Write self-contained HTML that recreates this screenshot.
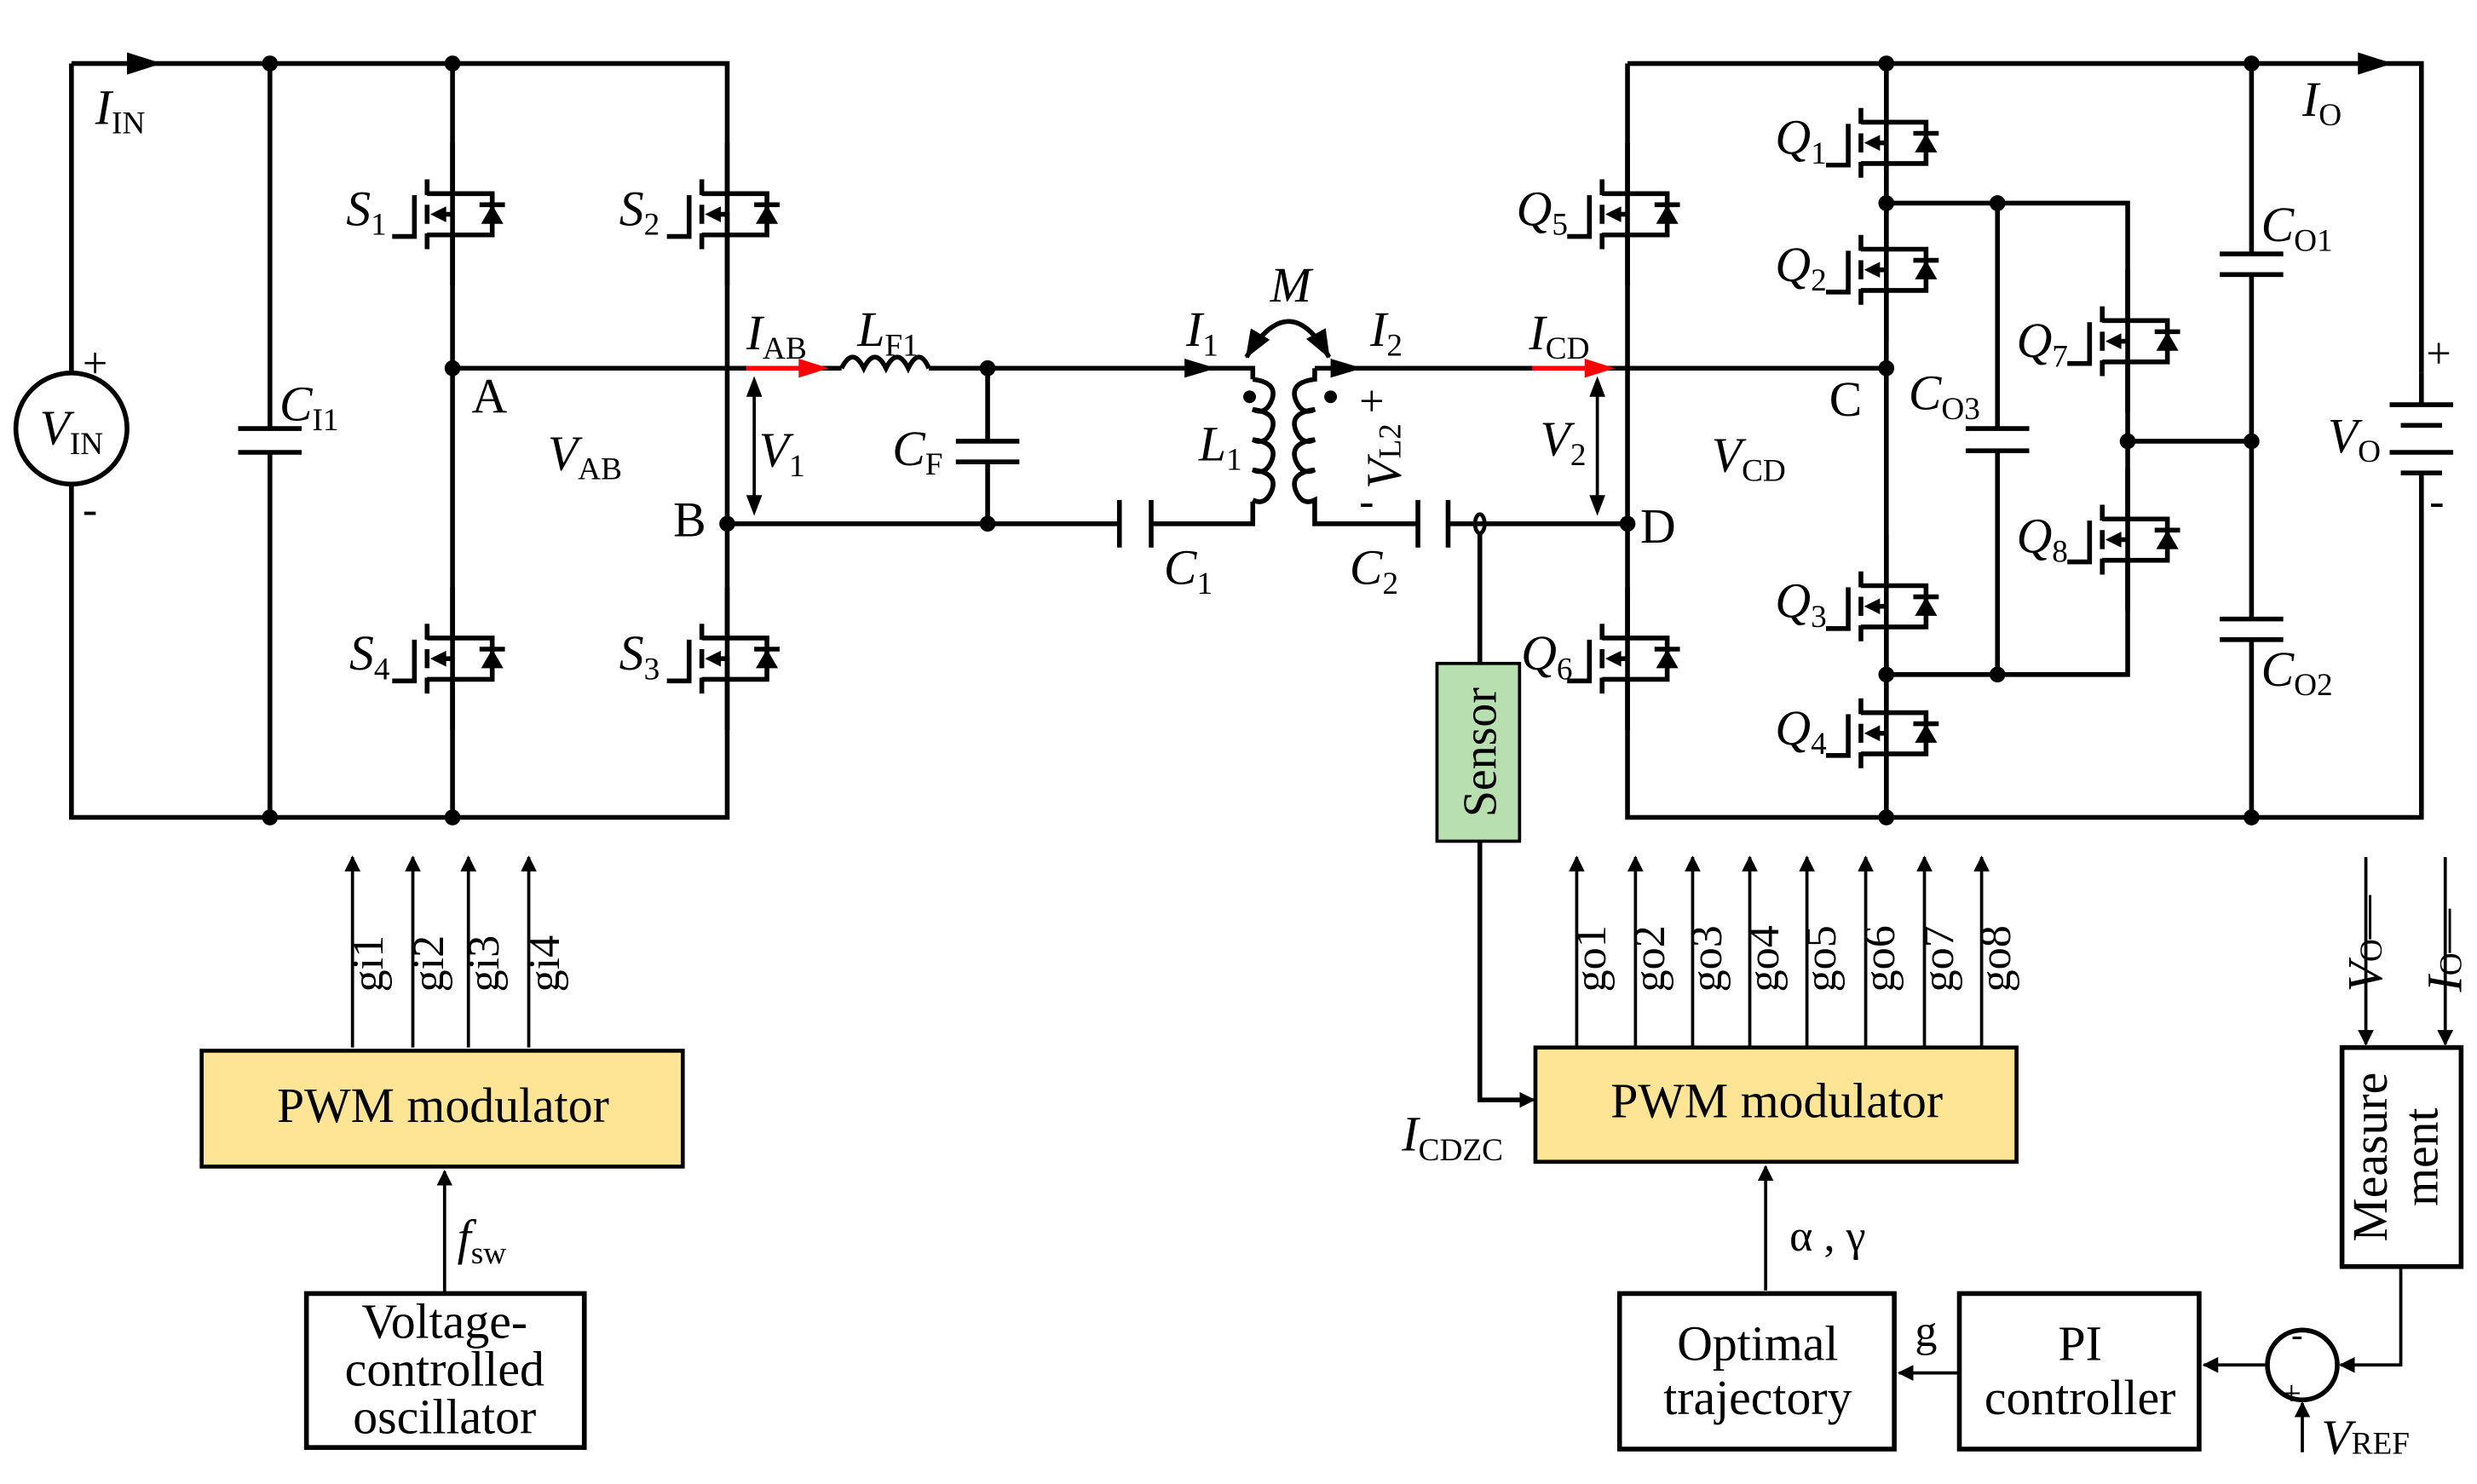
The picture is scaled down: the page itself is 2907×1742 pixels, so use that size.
<!DOCTYPE html>
<html><head><meta charset="utf-8"><style>
html,body{margin:0;padding:0;background:#fff}
svg{display:block}
text{font-family:"Liberation Serif",serif;fill:#000}
.i{font-style:italic}
</style></head><body>
<svg width="2907" height="1742" viewBox="0 0 1560 935" preserveAspectRatio="none" xmlns="http://www.w3.org/2000/svg">
<defs>
<g id="mos">
 <path d="M0,-45V-13H25V13H0V45M-16,-22V-12M-16,-6V6M-16,12V22M-16,-13H0M-16,13H0M-24,-12V14H-38" fill="none" stroke="#000" stroke-width="3"/>
 <path d="M0,0H-5" stroke="#000" stroke-width="3"/>
 <polygon points="-14,0 -4,-5 -4,5" fill="#000"/>
 <polygon points="25,-6 18,6 32,6" fill="#000"/>
 <path d="M17,-6H33" stroke="#000" stroke-width="3"/>
</g>
<g id="mos2">
 <path d="M0,-45V-13H25V13H0V45M-16,-22V-12M-16,-6V6M-16,12V22M-16,-13H0M-16,13H0M-24,-12V14H-38M0,13V0H-5" fill="none" stroke="#000" stroke-width="3"/>
 <polygon points="-14,0 -4,-5 -4,5" fill="#000"/>
 <polygon points="25,-6 18,6 32,6" fill="#000"/>
 <path d="M17,-6H33" stroke="#000" stroke-width="3"/>
</g>
<marker id="ar" markerWidth="10" markerHeight="10" refX="9" refY="5" orient="auto" markerUnits="userSpaceOnUse"><polygon points="0,0 10,5 0,10" fill="#000"/></marker>
<marker id="ab" markerWidth="18" markerHeight="14" refX="17" refY="7" orient="auto-start-reverse" markerUnits="userSpaceOnUse"><polygon points="0,0 18,7 0,14" fill="#000"/></marker>
</defs>
<g fill="none" stroke="#000" stroke-width="3">
<path d="M45,40H458V515H45V305M45,235V40"/>
<path d="M170,40V270M170,285V515"/>
<path d="M150,270H190M150,285H190"/>
<path d="M285,40V515M285,232H458"/>
<path d="M458,232H530M585,232H789V239M458,330H705M725,330H789V316"/>
<path d="M530,232q7,-14 14,0q7,-14 14,0q7,-14 14,0q7,-14 13,0"/>
<path d="M622,232V278M622,291V330M602,278H642M602,291H642"/>
<path d="M705,315V345M725,315V345"/>
<path d="M789,239q16,2 12,13q-4,10 -12,6q16,2 12,13q-4,10 -12,6q16,2 12,13q-4,10 -12,6q16,2 12,13q-4,10 -12,6"/>
<path d="M828,232V239q-16,2 -12,13q4,10 12,6q-16,2 -12,13q4,10 12,6q-16,2 -12,13q4,10 12,6q-16,2 -12,13q4,10 12,6V330H893M912,330H1025"/>
<path d="M893,315V345M912,315V345"/>
<path d="M828,232H1188"/>
<path d="M785,225Q812,180 837,225" marker-start="url(#ab)" marker-end="url(#ab)"/>
<ellipse cx="932" cy="330" rx="3" ry="6" stroke-width="2.5"/>
<path d="M932,336V418M932,530V693H958"/>
<path d="M1025,40H1525V235M1525,318V515H1025V40"/>
<path d="M1188,40V515M1188,128H1340V425H1188M1258,128V270M1258,284V425M1238,270H1278M1238,284H1278"/>
<path d="M1340,278H1418M1418,40V160M1418,173V390M1418,403V515M1398,160H1438M1398,173H1438M1398,390H1438M1398,403H1438"/>
<path d="M1505,255H1545M1512,268H1538M1505,285H1545M1512,298H1538M1525,235V255M1525,298V318"/>
<circle cx="45" cy="270" r="35"/>
<rect x="193" y="815" width="175" height="97"/>
<rect x="1020" y="815" width="173" height="98"/>
<rect x="1234" y="815" width="151" height="98"/>
<rect x="1475" y="660" width="75" height="138"/>
<circle cx="1450" cy="860" r="22"/>
</g>
<use href="#mos" x="285" y="135"/>
<use href="#mos2" x="458" y="135"/>
<use href="#mos" x="285" y="415"/>
<use href="#mos2" x="458" y="415"/>
<use href="#mos" x="1025" y="135"/>
<use href="#mos" x="1025" y="415"/>
<use href="#mos" x="1188" y="90"/>
<use href="#mos" x="1188" y="170"/>
<use href="#mos" x="1188" y="382"/>
<use href="#mos" x="1188" y="462"/>
<use href="#mos" x="1340" y="215"/>
<use href="#mos" x="1340" y="340"/>
<g fill="#000">
<circle cx="170" cy="40" r="5"/><circle cx="285" cy="40" r="5"/><circle cx="170" cy="515" r="5"/><circle cx="285" cy="515" r="5"/>
<circle cx="285" cy="232" r="5"/><circle cx="458" cy="330" r="5"/><circle cx="622" cy="232" r="5"/><circle cx="622" cy="330" r="5"/>
<circle cx="1025" cy="330" r="5"/><circle cx="1188" cy="40" r="5"/><circle cx="1188" cy="128" r="5"/><circle cx="1258" cy="128" r="5"/>
<circle cx="1188" cy="232" r="5"/><circle cx="1188" cy="425" r="5"/><circle cx="1258" cy="425" r="5"/><circle cx="1188" cy="515" r="5"/>
<circle cx="1340" cy="278" r="5"/><circle cx="1418" cy="40" r="5"/><circle cx="1418" cy="278" r="5"/><circle cx="1418" cy="515" r="5"/>
<circle cx="787" cy="250" r="4"/><circle cx="838" cy="250" r="4"/>
<polygon points="80,33 102,40 80,47"/><polygon points="1485,33 1507,40 1485,47"/>
<polygon points="746,226 766,232 746,238"/><polygon points="838,226 858,232 838,238"/>
</g>
<path d="M470,232H505M965,232H1000" stroke="#f00" stroke-width="3"/>
<polygon points="503,226 522,232 503,238" fill="#f00"/><polygon points="998,226 1017,232 998,238" fill="#f00"/>
<g stroke="#000" stroke-width="2" fill="none"><path d="M475,242V320M1006,242V320"/></g>
<g fill="#000"><polygon points="475,237 470,250 480,250"/><polygon points="475,325 470,312 480,312"/><polygon points="1006,237 1001,250 1011,250"/><polygon points="1006,325 1001,312 1011,312"/></g>
<rect x="905" y="418" width="52" height="112" fill="#b7dfb0" stroke="#000" stroke-width="2"/>
<text transform="translate(942,474) rotate(-90)" font-size="30" text-anchor="middle">Sensor</text>
<g stroke="#000" stroke-width="2" fill="none" marker-end="url(#ar)">
<path d="M222,660V540"/><path d="M260,660V540"/><path d="M295,660V540"/><path d="M333,660V540"/>
<path d="M993,660V540"/><path d="M1030,660V540"/><path d="M1066,660V540"/><path d="M1102,660V540"/><path d="M1138,660V540"/><path d="M1175,660V540"/><path d="M1212,660V540"/><path d="M1248,660V540"/>
<path d="M280,815V738"/><path d="M1112,813V735"/><path d="M1234,865H1196"/><path d="M1428,860H1388"/>
<path d="M1512,798V860H1474"/><path d="M1450,915V884"/><path d="M1490,540V658"/><path d="M1540,540V658"/>
<path d="M958,693H966"/>
</g>
<g font-size="28">
<text transform="translate(241,625) rotate(-90)">gi1</text><text transform="translate(279,625) rotate(-90)">gi2</text><text transform="translate(314,625) rotate(-90)">gi3</text><text transform="translate(352,625) rotate(-90)">gi4</text>
<text transform="translate(1011,625) rotate(-90)">go1</text><text transform="translate(1048,625) rotate(-90)">go2</text><text transform="translate(1084,625) rotate(-90)">go3</text><text transform="translate(1120,625) rotate(-90)">go4</text><text transform="translate(1156,625) rotate(-90)">go5</text><text transform="translate(1193,625) rotate(-90)">go6</text><text transform="translate(1230,625) rotate(-90)">go7</text><text transform="translate(1266,625) rotate(-90)">go8</text>
</g>
<rect x="127" y="662" width="303" height="73" fill="#fde595" stroke="#000" stroke-width="2.5"/>
<rect x="967" y="660" width="303" height="72" fill="#fde595" stroke="#000" stroke-width="2.5"/>
<g font-size="31" text-anchor="middle">
<text x="279" y="707">PWM modulator</text><text x="1119" y="704">PWM modulator</text>
<text x="280" y="843">Voltage-</text><text x="280" y="873">controlled</text><text x="280" y="903">oscillator</text>
<text x="1107" y="857">Optimal</text><text x="1107" y="891">trajectory</text>
<text x="1310" y="857">PI</text><text x="1310" y="891">controller</text>
<text transform="translate(1503,729) rotate(-90)">Measure</text><text transform="translate(1535,729) rotate(-90)">ment</text>
</g>
<g font-size="31">
<text x="1127" y="788" font-size="28">α , γ</text><text x="1206" y="848" font-size="28">g</text>
<text x="1443" y="848" font-size="22">-</text><text x="1437" y="885" font-size="22">+</text>
<text x="1462" y="916" class="i">V<tspan font-style="normal" font-size="20">REF</tspan></text>
<text x="288" y="790" class="i">f<tspan font-style="normal" font-size="20" dy="6">sw</tspan></text>
<text x="883" y="725" class="i">I<tspan font-style="normal" font-size="20" dy="6">CDZC</tspan></text>
<text transform="translate(1500,625) rotate(-90)" class="i">V<tspan font-style="normal" font-size="20">O</tspan>—</text>
<text transform="translate(1550,625) rotate(-90)" class="i">I<tspan font-style="normal" font-size="20">O</tspan>—</text>
<text x="60" y="78" class="i">I<tspan font-style="normal" font-size="20" dy="6">IN</tspan></text>
<text x="25" y="280" class="i">V<tspan font-style="normal" font-size="20" dy="6">IN</tspan></text>
<text x="52" y="238" font-size="28">+</text><text x="52" y="330" font-size="28">-</text>
<text x="176" y="265" class="i">C<tspan font-style="normal" font-size="20" dy="6">I1</tspan></text>
<text x="218" y="142" class="i">S<tspan font-style="normal" font-size="20" dy="6">1</tspan></text>
<text x="390" y="142" class="i">S<tspan font-style="normal" font-size="20" dy="6">2</tspan></text>
<text x="220" y="422" class="i">S<tspan font-style="normal" font-size="20" dy="6">4</tspan></text>
<text x="390" y="422" class="i">S<tspan font-style="normal" font-size="20" dy="6">3</tspan></text>
<text x="297" y="260">A</text><text x="424" y="338">B</text>
<text x="345" y="296" class="i">V<tspan font-style="normal" font-size="20" dy="6">AB</tspan></text>
<text x="470" y="220" class="i">I<tspan font-style="normal" font-size="20" dy="6">AB</tspan></text>
<text x="540" y="218" class="i">L<tspan font-style="normal" font-size="20" dy="6">F1</tspan></text>
<text x="478" y="294" class="i">V<tspan font-style="normal" font-size="20" dy="6">1</tspan></text>
<text x="562" y="293" class="i">C<tspan font-style="normal" font-size="20" dy="6">F</tspan></text>
<text x="733" y="368" class="i">C<tspan font-style="normal" font-size="20" dy="6">1</tspan></text>
<text x="850" y="368" class="i">C<tspan font-style="normal" font-size="20" dy="6">2</tspan></text>
<text x="747" y="218" class="i">I<tspan font-style="normal" font-size="20" dy="6">1</tspan></text>
<text x="863" y="218" class="i">I<tspan font-style="normal" font-size="20" dy="6">2</tspan></text>
<text x="800" y="190" class="i">M</text>
<text x="755" y="290" class="i">L<tspan font-style="normal" font-size="20" dy="6">1</tspan></text>
<text x="856" y="262" font-size="28">+</text><text x="856" y="325" font-size="28">-</text>
<text transform="translate(882,308) rotate(-90)" class="i">V<tspan font-style="normal" font-size="20">L2</tspan></text>
<text x="963" y="220" class="i">I<tspan font-style="normal" font-size="20" dy="6">CD</tspan></text>
<text x="970" y="287" class="i">V<tspan font-style="normal" font-size="20" dy="6">2</tspan></text>
<text x="1078" y="297" class="i">V<tspan font-style="normal" font-size="20" dy="6">CD</tspan></text>
<text x="1033" y="342">D</text><text x="1152" y="262">C</text>
<text x="955" y="142" class="i">Q<tspan font-style="normal" font-size="20" dy="6">5</tspan></text>
<text x="958" y="422" class="i">Q<tspan font-style="normal" font-size="20" dy="6">6</tspan></text>
<text x="1118" y="97" class="i">Q<tspan font-style="normal" font-size="20" dy="6">1</tspan></text>
<text x="1118" y="177" class="i">Q<tspan font-style="normal" font-size="20" dy="6">2</tspan></text>
<text x="1118" y="389" class="i">Q<tspan font-style="normal" font-size="20" dy="6">3</tspan></text>
<text x="1118" y="469" class="i">Q<tspan font-style="normal" font-size="20" dy="6">4</tspan></text>
<text x="1270" y="225" class="i">Q<tspan font-style="normal" font-size="20" dy="6">7</tspan></text>
<text x="1270" y="348" class="i">Q<tspan font-style="normal" font-size="20" dy="6">8</tspan></text>
<text x="1202" y="258" class="i">C<tspan font-style="normal" font-size="20" dy="6">O3</tspan></text>
<text x="1424" y="152" class="i">C<tspan font-style="normal" font-size="20" dy="6">O1</tspan></text>
<text x="1424" y="432" class="i">C<tspan font-style="normal" font-size="20" dy="6">O2</tspan></text>
<text x="1450" y="73" class="i">I<tspan font-style="normal" font-size="20" dy="6">O</tspan></text>
<text x="1466" y="285" class="i">V<tspan font-style="normal" font-size="20" dy="6">O</tspan></text>
<text x="1528" y="232" font-size="28">+</text><text x="1530" y="325" font-size="28">-</text>
</g>
</svg>
</body></html>
